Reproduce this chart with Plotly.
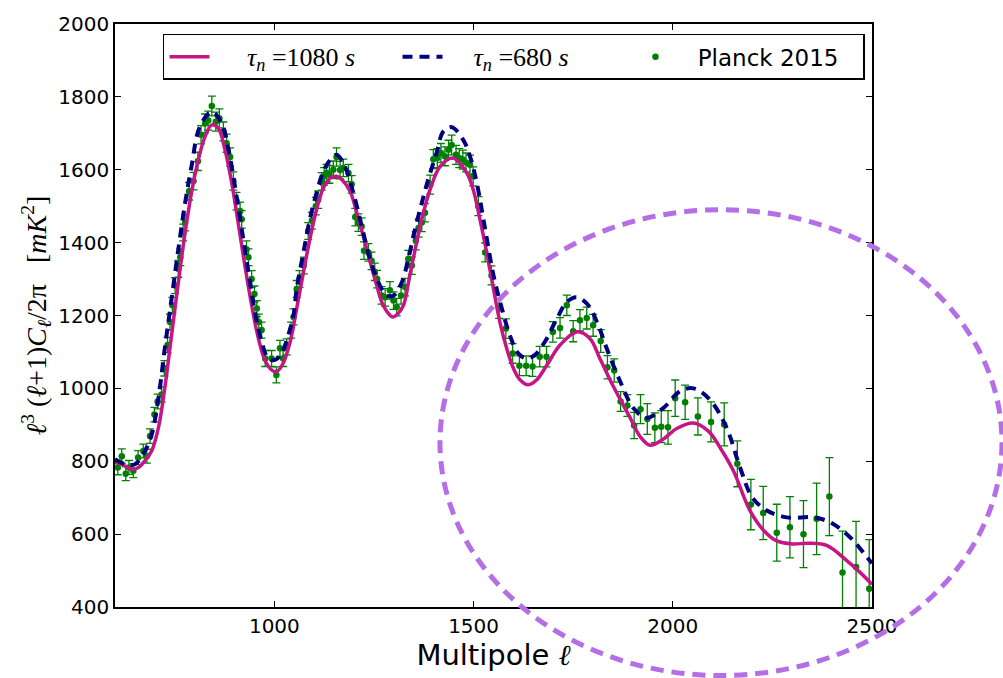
import plotly.graph_objects as go

# ---- Planck 2015 binned data ----
planck_l = [607, 617, 627, 635, 646, 658, 671, 680, 688, 699, 707, 717, 724, 732, 738, 744, 751, 759, 764,
            771, 776, 786, 797, 808, 816, 826, 834, 843, 853, 862, 872, 880, 889, 897, 905, 914, 918, 930,
            935, 943, 950, 956, 961, 968, 977, 993, 1005, 1014, 1022, 1031, 1042, 1048, 1056, 1063, 1074,
            1085, 1094, 1104, 1110, 1119, 1125, 1131, 1138, 1148, 1156, 1165, 1173, 1186, 1194, 1203, 1211,
            1219, 1225, 1236, 1244, 1252, 1258, 1269, 1278, 1290, 1299, 1307, 1318, 1328, 1336, 1345, 1355,
            1362, 1370, 1378, 1391, 1399, 1409, 1418, 1428, 1437, 1445, 1456, 1464, 1473, 1481, 1491, 1499,
            1512, 1529, 1545, 1564, 1581, 1598, 1615, 1632, 1648, 1666, 1683, 1699, 1717, 1734, 1750, 1767,
            1784, 1800, 1819, 1836, 1853, 1869, 1886, 1903, 1919, 1936, 1955, 1971, 1988, 2006, 2031, 2063,
            2096, 2129, 2162, 2196, 2227, 2261, 2294, 2328, 2361, 2393, 2426, 2460, 2493]
planck_v = [783, 814, 766, 783, 774, 810, 828, 814, 869, 928, 964, 983, 1055, 1119, 1182, 1228, 1282, 1328, 1360,
            1428, 1455, 1541, 1569, 1623, 1696, 1727, 1735, 1775, 1732, 1741, 1705, 1673, 1635, 1569, 1514, 1487,
            1464, 1382, 1360, 1300, 1259, 1219, 1182, 1160, 1082, 1082, 1037, 1110, 1082, 1114, 1160, 1196, 1273,
            1300, 1337, 1432, 1460, 1500, 1518, 1568, 1582, 1591, 1587, 1600, 1635, 1599, 1605, 1591, 1560, 1470,
            1455, 1444, 1378, 1373, 1350, 1320, 1300, 1255, 1250, 1269, 1241, 1223, 1255, 1278, 1355, 1337, 1405,
            1440, 1455, 1482, 1559, 1629, 1632, 1646, 1637, 1655, 1668, 1641, 1632, 1628, 1620, 1614, 1582,
            1500, 1373, 1310, 1219, 1164, 1096, 1062, 1062, 1060, 1087, 1087, 1155, 1166, 1228, 1157, 1187,
            1193, 1173, 1130, 1058, 1049, 964, 953, 898, 943, 916, 892, 895, 893, 973, 962, 923,
            908, 901, 793, 681, 658, 604, 619, 600, 642, 703, 495, 510, 450]
planck_err = [20, 20, 19, 19, 19, 19, 19, 19, 20, 20, 20, 21, 21, 21, 22, 22, 22, 23, 23,
              23, 23, 24, 24, 25, 25, 26, 26, 27, 26, 26, 26, 25, 25, 25, 24, 24, 24, 23,
              23, 23, 22, 22, 22, 22, 22, 22, 22, 22, 22, 22, 22, 22, 23, 23, 23,
              23, 23, 24, 24, 24, 24, 24, 24, 24, 25, 24, 24, 24, 24, 24, 24,
              24, 24, 24, 24, 24, 24, 24, 24, 24, 24, 24, 24, 24, 24, 24, 25,
              25, 25, 25, 26, 26, 26, 26, 26, 26, 27, 26, 26, 26, 26, 26, 26,
              26, 26, 26, 27, 27, 27, 27, 27, 27, 28, 28, 28, 28, 28, 29, 29,
              30, 30, 31, 32, 32, 27, 30, 36, 40, 42, 41, 44, 46, 50, 47, 51,
              55, 59, 63, 69, 73, 78, 84, 92, 98, 107, 113, 125, 135]

# ---- model curve, tau_n = 1080 s ----
t1080_l = [600, 617, 642, 659, 675, 692, 709, 725, 742, 759, 776, 792, 809, 826, 843, 859, 876, 893, 909,
           926, 943, 960, 976, 993, 1006, 1022, 1039, 1056, 1073, 1089, 1106, 1123, 1140, 1156, 1172, 1190,
           1207, 1232, 1257, 1273, 1290, 1297, 1310, 1324, 1340, 1357, 1374, 1391, 1416, 1448, 1483, 1499,
           1516, 1533, 1550, 1566, 1583, 1600, 1617, 1637, 1658, 1684, 1717, 1759, 1792, 1817, 1851, 1893,
           1918, 1943, 1975, 2010, 2052, 2090, 2120, 2152, 2194, 2230, 2260, 2300, 2340, 2386, 2436, 2470, 2500]
t1080_v = [797, 792, 778, 783, 801, 828, 892, 1001, 1146, 1291, 1428, 1537, 1627, 1691, 1723, 1714, 1655,
           1564, 1455, 1337, 1228, 1137, 1078, 1051, 1046, 1069, 1125, 1219, 1319, 1409, 1491, 1550, 1577,
           1582, 1570, 1541, 1482, 1382, 1282, 1228, 1201, 1196, 1205, 1228, 1310, 1400, 1482, 1546, 1609,
           1632, 1591, 1546, 1464, 1373, 1273, 1182, 1110, 1055, 1023, 1010, 1023, 1064, 1119, 1155, 1137,
           1082, 1005, 919, 868, 844, 860, 890, 905, 882, 835, 774, 664, 608, 582, 573, 575, 569, 528, 495, 462]

# ---- model curve, tau_n = 680 s ----
t680_l = [600, 625, 650, 675, 692, 709, 725, 742, 759, 776, 792, 813, 843, 868, 885, 901, 918, 935, 951,
          968, 985, 1002, 1018, 1035, 1048, 1056, 1073, 1089, 1106, 1123, 1140, 1156, 1177, 1198, 1219,
          1240, 1261, 1282, 1299, 1320, 1336, 1353, 1370, 1386, 1407, 1424, 1445, 1474, 1491, 1508, 1529,
          1550, 1571, 1591, 1612, 1633, 1654, 1679, 1709, 1734, 1759, 1788, 1813, 1834, 1868, 1901, 1934,
          1976, 2018, 2052, 2093, 2135, 2169, 2200, 2236, 2286, 2353, 2390, 2420, 2455, 2487, 2500]
t680_v = [806, 792, 792, 828, 873, 973, 1110, 1246, 1382, 1509, 1609, 1718, 1759, 1727, 1655, 1555, 1437,
          1319, 1210, 1128, 1082, 1078, 1096, 1146, 1200, 1273, 1373, 1464, 1537, 1596, 1627, 1641, 1609,
          1537, 1446, 1355, 1291, 1255, 1255, 1291, 1355, 1437, 1509, 1573, 1646, 1705, 1717, 1682, 1637,
          1564, 1437, 1310, 1219, 1146, 1096, 1082, 1092, 1128, 1191, 1237, 1250, 1228, 1173, 1110, 1019,
          946, 919, 946, 992, 1000, 969, 892, 782, 700, 665, 646, 646, 635, 615, 580, 537, 520]

tick_x = [1000, 1500, 2000, 2500]
tick_y = [400, 600, 800, 1000, 1200, 1400, 1600, 1800, 2000]

GREEN = "#008000"
PINK = "#C71585"
NAVY = "#000080"
PURPLE = "#B46EE6"
SERIF = "Liberation Serif"
GAP_PINK = "\u2002\u2002\u2005"
GAP_NAVY = "\u2002\u2005\u2005"
GAP_SANS = "\u2002\u2005"

fig = go.Figure()

fig.add_trace(go.Scatter(
    x=planck_l, y=planck_v, mode="markers",
    name=GAP_SANS + "Planck 2015", legendrank=3,
    marker=dict(color=GREEN, size=6.5),
    error_y=dict(type="data", array=planck_err, visible=True, color=GREEN, thickness=1.3, width=4),
    cliponaxis=True,
))
fig.add_trace(go.Scatter(
    x=t1080_l, y=t1080_v, mode="lines", legendrank=1,
    name=f"<span style='font-family:{SERIF};font-size:26px'>{GAP_PINK}<i>τ</i><sub><i>n</i></sub> =1080 <i>s</i></span>",
    line=dict(color=PINK, width=3.5, shape="spline", smoothing=1.0),
))
fig.add_trace(go.Scatter(
    x=t680_l, y=t680_v, mode="lines", legendrank=2,
    name=f"<span style='font-family:{SERIF};font-size:26px'>{GAP_NAVY}<i>τ</i><sub><i>n</i></sub> =680 <i>s</i></span>",
    line=dict(color=NAVY, width=4, dash="10px,7px", shape="spline", smoothing=1.0),
))

# highlighted high-multipole region
fig.add_shape(type="circle", xref="paper", yref="paper",
              x0=0.4293, x1=1.1717, y0=-0.1175, y1=0.6814,
              line=dict(color=PURPLE, width=5, dash="13px,8px"), layer="above")

axis_common = dict(
    showline=True, linecolor="black", linewidth=1.5, mirror="ticks",
    ticks="inside", ticklen=6, tickwidth=1, tickcolor="black",
    showgrid=False, zeroline=False,
    tickfont=dict(family="DejaVu Sans", size=20, color="black"),
)

fig.update_layout(
    width=1003, height=678, autosize=False,
    margin=dict(l=115, r=131, t=20, b=71),
    paper_bgcolor="white", plot_bgcolor="white",
    font=dict(family="DejaVu Sans", color="black"),
    xaxis=dict(range=[600, 2500], tickvals=tick_x, ticktext=[str(v) for v in tick_x],
               title=dict(text=f"Multipole <span style='font-family:{SERIF}'><i>ℓ</i></span>",
                          font=dict(size=29, family="DejaVu Sans"), standoff=6),
               **axis_common),
    yaxis=dict(range=[400, 2000], tickvals=tick_y, ticktext=[str(v) for v in tick_y],
               title=dict(text="<i>ℓ</i><sup>3</sup> (<i>ℓ</i>+1)<i>C</i><sub><i>ℓ</i></sub>/2π   [<i>mK</i><sup>2</sup>]",
                          font=dict(size=28, family=SERIF), standoff=4),
               **axis_common),
    legend=dict(orientation="h", x=0.0634, y=0.983, xanchor="left", yanchor="top",
                bordercolor="black", borderwidth=1.5, bgcolor="white",
                font=dict(size=23, family="DejaVu Sans", color="black"),
                entrywidth=178, itemwidth=40, traceorder="normal"),
    showlegend=True,
)

fig.write_html("out.html", config={"displayModeBar": False},
               post_script="document.body.style.margin='0px';")
